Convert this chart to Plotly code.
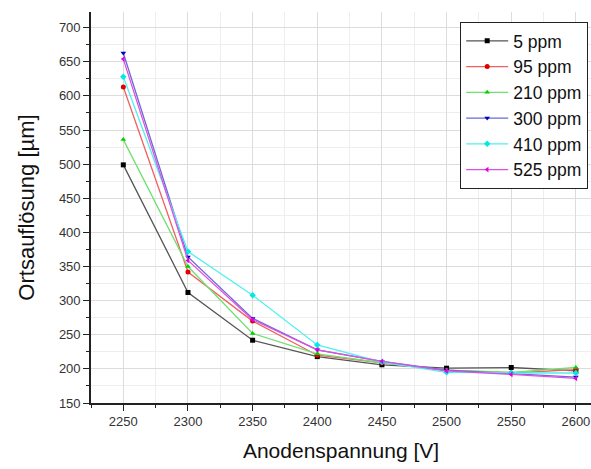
import plotly.graph_objects as go

voltages = [2250, 2300, 2350, 2400, 2450, 2500, 2550, 2600]
series_names = ["5 ppm", "95 ppm", "210 ppm", "300 ppm", "410 ppm", "525 ppm"]
v_5 = [499, 312, 242, 218, 206, 201, 202, 197]
v_95 = [613, 342, 270, 220, 209, 198, 194, 199]
v_210 = [536, 350, 252, 222, 209, 198, 195, 202]
v_300 = [663, 364, 274, 228, 211, 198, 193, 188]
v_410 = [628, 372, 308, 235, 210, 195, 194, 194]
v_525 = [654, 359, 272, 228, 211, 197, 192, 186]
values = [v_5, v_95, v_210, v_300, v_410, v_525]

line_colors = ["#555555", "#f06060", "#70e070", "#6a6ad8", "#50f0f0", "#e050e0"]
marker_colors = ["#000000", "#e00000", "#00d000", "#0000c0", "#00e8e8", "#e000e0"]
symbols = ["square", "circle", "triangle-up", "triangle-down", "diamond", "triangle-left"]

fig = go.Figure()
for name, vals, lc, mc, sym in zip(series_names, values, line_colors, marker_colors, symbols):
    fig.add_trace(go.Scatter(
        x=voltages, y=vals, name=name, mode="lines+markers",
        line=dict(color=lc, width=1.3),
        marker=dict(color=mc, symbol=sym, size=5, line=dict(width=0)),
    ))

font = "Liberation Sans, Arial, sans-serif"
fig.update_layout(
    width=591, height=469,
    margin=dict(l=91, r=0, t=12, b=66),
    plot_bgcolor="white", paper_bgcolor="white",
    font=dict(family=font, color="#222222"),
    showlegend=True,
    legend=dict(
        x=0.994, y=0.975, xanchor="right", yanchor="top",
        bgcolor="white", bordercolor="#222222", borderwidth=1.2,
        font=dict(size=17.5, family=font, color="#111111"),
        itemwidth=42, tracegroupgap=0,
    ),
    xaxis=dict(
        range=[2225, 2611.7], tick0=2250, dtick=50, automargin=False,
        showline=True, linecolor="#222222", linewidth=1.6,
        ticks="outside", ticklen=6, tickwidth=1.4, tickcolor="#222222",
        showgrid=True, gridcolor="#dcdcdc", gridwidth=1,
        minor=dict(dtick=25, ticks="outside", ticklen=3, tickcolor="#222222",
                   showgrid=True, gridcolor="#eeeeee"),
        tickfont=dict(size=13, color="#333333"),
        title=dict(text="Anodenspannung [V]", font=dict(size=21, color="#111111"), standoff=15),
        zeroline=False, mirror=False,
    ),
    yaxis=dict(
        range=[150, 723], tick0=150, dtick=50, automargin=False,
        showline=True, linecolor="#222222", linewidth=1.6,
        ticks="outside", ticklen=6, tickwidth=1.4, tickcolor="#222222",
        showgrid=True, gridcolor="#dcdcdc", gridwidth=1,
        minor=dict(dtick=25, ticks="outside", ticklen=3, tickcolor="#222222",
                   showgrid=True, gridcolor="#eeeeee"),
        tickfont=dict(size=13, color="#333333"),
        title=dict(text="Ortsauflösung [µm]", font=dict(size=22, color="#111111"), standoff=18),
        zeroline=False,
    ),
)

fig.write_html(
    "out.html",
    config={"displayModeBar": False},
    post_script="document.body.style.margin='0';document.body.style.overflow='hidden';",
)
